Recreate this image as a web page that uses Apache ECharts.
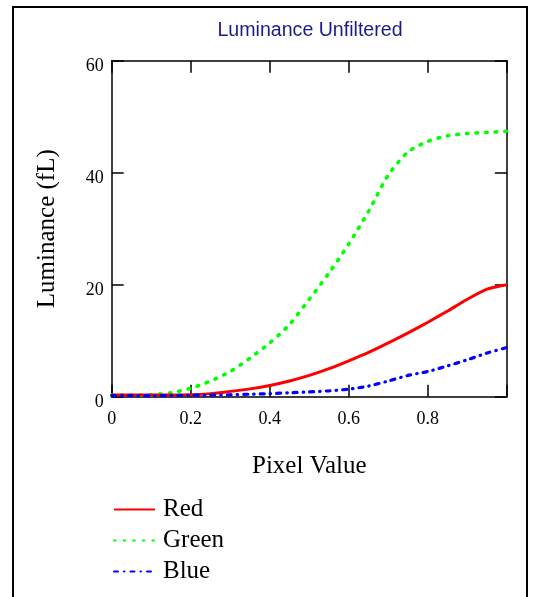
<!DOCTYPE html>
<html>
<head>
<meta charset="utf-8">
<title>Luminance Unfiltered</title>
<script src="https://cdn.jsdelivr.net/npm/echarts@6/dist/echarts.min.js"></script>
<style>
  html, body { margin: 0; padding: 0; background: #ffffff; }
  #chart { width: 537px; height: 597px; }
</style>
</head>
<body>
<div id="chart"></div>
<script>
// Pixel value samples (0..1) and the measured luminance of each channel in fL
const pixelValue = [0, 0.05, 0.1, 0.15, 0.2, 0.25, 0.3, 0.35, 0.4, 0.45, 0.5,
                    0.55, 0.6, 0.65, 0.7, 0.75, 0.8, 0.85, 0.9, 0.95, 1.0];
const redLum   = [0.3, 0.3, 0.3, 0.3, 0.35, 0.55, 0.95, 1.4, 2.0, 2.8, 3.8,
                  5.0, 6.4, 7.9, 9.6, 11.4, 13.3, 15.3, 17.4, 19.2, 20.0];
const greenLum = [0.3, 0.3, 0.35, 0.7, 1.5, 2.8, 4.5, 6.9, 9.6, 12.9, 17.4,
                  22.1, 27.3, 33.1, 39.6, 43.7, 45.6, 46.6, 47.0, 47.2, 47.4];
const blueLum  = [0.2, 0.2, 0.2, 0.2, 0.25, 0.3, 0.35, 0.45, 0.55, 0.7, 0.85,
                  1.05, 1.35, 1.9, 2.8, 3.8, 4.5, 5.5, 6.6, 7.8, 8.8];
const seriesNames = ['Red', 'Green', 'Blue'];
const xTicks = [0, 0.2, 0.4, 0.6, 0.8, 1.0];
const yTicks = [0, 20, 40, 60];

const pairs = ys => pixelValue.map((x, i) => [x, ys[i]]);

const serif = 'Liberation Serif';
const axisLine = { show: true, onZero: false, lineStyle: { color: '#000', width: 1.5 } };
const axisTick = { show: true, inside: true, length: 12, lineStyle: { color: '#000', width: 1.5 } };

const chart = echarts.init(document.getElementById('chart'), null, { renderer: 'canvas' });

chart.setOption({
  backgroundColor: '#ffffff',
  animation: false,
  title: {
    text: 'Luminance Unfiltered',
    left: 305,
    top: 16,
    textAlign: 'center',
    textStyle: { fontFamily: 'Liberation Sans', fontSize: 19.6, fontWeight: 'normal', color: '#1a1a8a' }
  },
  graphic: [{
    type: 'rect',
    shape: { x: 13, y: 7, width: 514, height: 620 },
    style: { fill: 'none', stroke: '#000', lineWidth: 2 },
    silent: true,
    z: -1
  }],
  grid: { left: 111.7, top: 60.7, right: 30.1, bottom: 200.3, containLabel: false },
  legend: {
    orient: 'vertical',
    left: 108,
    top: 492,
    itemWidth: 41,
    itemHeight: 14,
    itemGap: 6,
    itemStyle: { opacity: 0 },
    data: seriesNames,
    textStyle: { fontFamily: serif, fontSize: 25, lineHeight: 25, color: '#000', padding: [0, 0, 0, 3] }
  },
  xAxis: [{
    type: 'value',
    position: 'bottom',
    min: xTicks[0],
    max: xTicks[xTicks.length - 1],
    interval: 0.2,
    name: 'Pixel Value',
    nameLocation: 'middle',
    nameGap: 57,
    nameTextStyle: { fontFamily: serif, fontSize: 25, color: '#000' },
    axisLine: axisLine,
    axisTick: axisTick,
    splitLine: { show: false },
    axisLabel: {
      margin: 14,
      fontFamily: serif,
      fontSize: 18,
      color: '#000',
      formatter: v => (v >= 1 ? '' : String(+v.toFixed(1)))
    }
  }, {
    type: 'value',
    position: 'top',
    min: xTicks[0],
    max: xTicks[xTicks.length - 1],
    interval: 0.2,
    axisLine: axisLine,
    axisTick: axisTick,
    splitLine: { show: false },
    axisLabel: { show: false }
  }],
  yAxis: [{
    type: 'value',
    position: 'left',
    min: yTicks[0],
    max: yTicks[yTicks.length - 1],
    interval: 20,
    name: 'Luminance (fL)',
    nameLocation: 'middle',
    nameRotate: 90,
    nameGap: 52,
    nameTextStyle: { fontFamily: serif, fontSize: 25, color: '#000' },
    axisLine: axisLine,
    axisTick: axisTick,
    splitLine: { show: false },
    axisLabel: {
      margin: 8,
      fontFamily: serif,
      fontSize: 18,
      color: '#000',
      verticalAlign: 'top',
      lineHeight: 11
    }
  }, {
    type: 'value',
    position: 'right',
    min: yTicks[0],
    max: yTicks[yTicks.length - 1],
    interval: 20,
    axisLine: axisLine,
    axisTick: axisTick,
    splitLine: { show: false },
    axisLabel: { show: false }
  }],
  series: [{
    name: seriesNames[0],
    type: 'line',
    data: pairs(redLum),
    showSymbol: false,
    symbol: 'none',
    smooth: 0.25,
    color: '#ff0000',
    lineStyle: { color: '#ff0000', width: 3 },
    z: 3
  }, {
    name: seriesNames[1],
    type: 'line',
    data: pairs(greenLum),
    showSymbol: false,
    symbol: 'none',
    smooth: 0.25,
    color: '#00ff00',
    lineStyle: { color: '#00ff00', width: 3.6, type: [1.6, 8], cap: 'round' },
    z: 2
  }, {
    name: seriesNames[2],
    type: 'line',
    data: pairs(blueLum),
    showSymbol: false,
    symbol: 'none',
    smooth: 0.25,
    color: '#0000ff',
    lineStyle: { color: '#0000ff', width: 3.2, type: [4, 6, 0.5, 6], cap: 'round' },
    z: 4
  }]
});
</script>
</body>
</html>
